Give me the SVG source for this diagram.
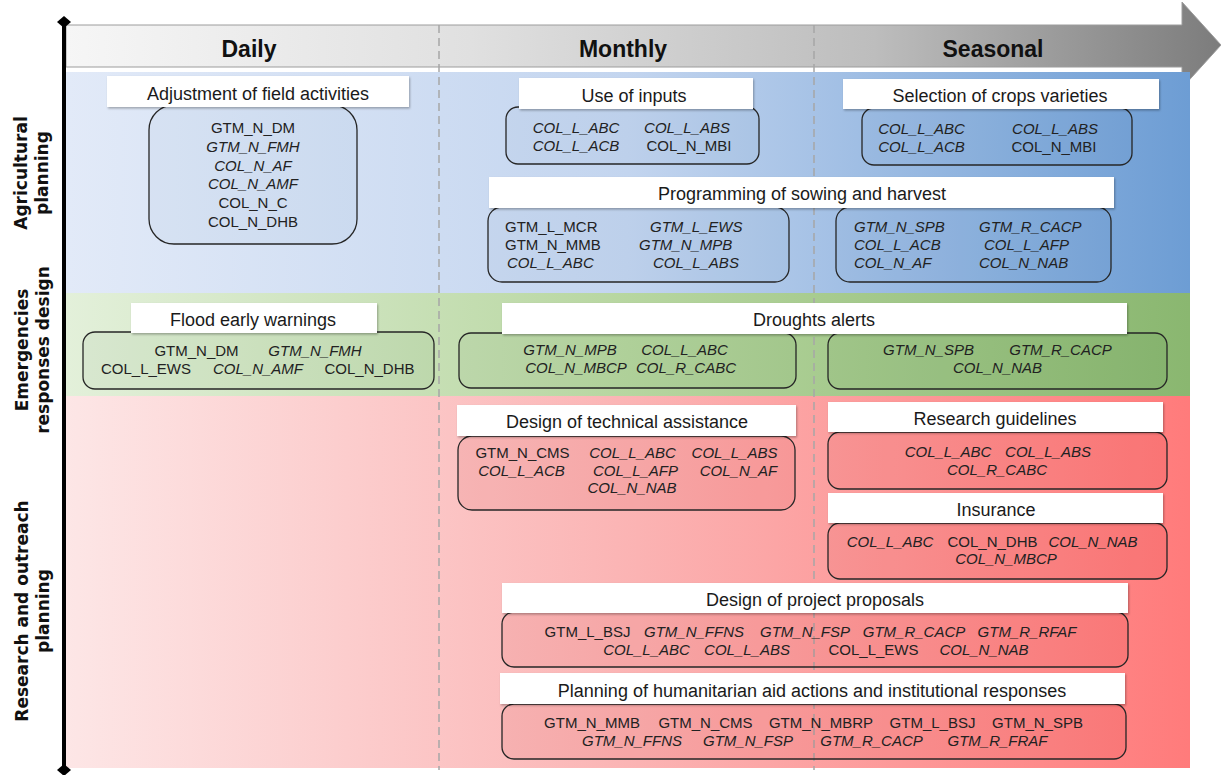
<svg xmlns="http://www.w3.org/2000/svg" width="1221" height="775" viewBox="0 0 1221 775">
<defs>
<linearGradient id="hdr" gradientUnits="userSpaceOnUse" x1="66" y1="0" x2="1221" y2="0">
<stop offset="0" stop-color="#f6f6f6"/><stop offset="0.35" stop-color="#e0e0e0"/><stop offset="0.7" stop-color="#bdbdbd"/><stop offset="1" stop-color="#7c7c7c"/>
</linearGradient>
<linearGradient id="blueG" gradientUnits="userSpaceOnUse" x1="66" y1="0" x2="1190" y2="0">
<stop offset="0" stop-color="#e2eaf8"/><stop offset="0.5" stop-color="#c3d5ef"/><stop offset="1" stop-color="#6d9dd4"/>
</linearGradient>
<linearGradient id="greenG" gradientUnits="userSpaceOnUse" x1="66" y1="0" x2="1190" y2="0">
<stop offset="0" stop-color="#e3f0da"/><stop offset="0.5" stop-color="#b7d6a0"/><stop offset="1" stop-color="#8ab770"/>
</linearGradient>
<linearGradient id="redG" gradientUnits="userSpaceOnUse" x1="66" y1="0" x2="1190" y2="0">
<stop offset="0" stop-color="#fde6e6"/><stop offset="0.5" stop-color="#fbb4b4"/><stop offset="1" stop-color="#ff7b7b"/>
</linearGradient>
<filter id="sh" x="-5%" y="-20%" width="110%" height="150%">
<feDropShadow dx="1" dy="1.5" stdDeviation="1.2" flood-color="#000" flood-opacity="0.3"/>
</filter>
<style>
.t{font-family:"Liberation Sans",Arial,sans-serif;font-size:18px;fill:#1a1a1a;text-anchor:middle}
.c{font-family:"Liberation Sans",Arial,sans-serif;font-size:15px;fill:#222;text-anchor:middle}
.i{font-style:italic}
.s{text-anchor:start}
.h{font-family:"Liberation Sans",Arial,sans-serif;font-size:23px;font-weight:bold;fill:#111;text-anchor:middle}
.lab{font-family:"DejaVu Sans",sans-serif;font-size:17px;font-weight:bold;fill:#111;text-anchor:middle}
.bar{fill:#fff;filter:url(#sh)}
.box{stroke:#262626;stroke-width:1.3}
.bb{fill:#2b5aa0;fill-opacity:0.04}
.gb{fill:#2e6b1e;fill-opacity:0.05}
.rb{fill:#c01010;fill-opacity:0.08}
.dash{stroke:#a6a6a6;stroke-width:1.5;stroke-dasharray:8 5;fill:none}
</style>
</defs>
<g id="background">
<polygon points="66,25 1182,25 1182,2 1221,45 1182,88 1182,67 66,67" fill="url(#hdr)" stroke="#9c9c9c" stroke-width="1"/>
<rect x="66" y="72" width="1124" height="221" fill="url(#blueG)"/>
<rect x="66" y="293" width="1124" height="103" fill="url(#greenG)"/>
<rect x="66" y="396" width="1124" height="372" fill="url(#redG)"/>
<line class="dash" x1="439" y1="25" x2="439" y2="770"/>
<line class="dash" x1="814" y1="25" x2="814" y2="770"/>
<line x1="64" y1="22" x2="64" y2="770" stroke="#000" stroke-width="4"/>
<polygon points="64,16 71,22 64,28 57,22" fill="#000"/>
<polygon points="64,764 71,770 64,776 57,770" fill="#000"/>
<text class="h" x="249" y="57">Daily</text>
<text class="h" x="623" y="57">Monthly</text>
<text class="h" x="993" y="57">Seasonal</text>
<text class="lab" transform="translate(27,173) rotate(-90)">Agricultural</text>
<text class="lab" transform="translate(48,173) rotate(-90)">planning</text>
<text class="lab" transform="translate(28,350) rotate(-90)">Emergencies</text>
<text class="lab" transform="translate(49,350) rotate(-90)">responses design</text>
<text class="lab" transform="translate(28,611) rotate(-90)">Research and outreach</text>
<text class="lab" transform="translate(49,611) rotate(-90)">planning</text>
</g>
<g id="connectors"></g>
<g id="n1">
<rect class="box bb" x="149" y="105" width="208" height="139" rx="25"/>
<rect class="bar" x="107" y="76" width="302" height="31"/>
<text class="t" x="258" y="100">Adjustment of field activities</text>
<text class="c" x="253" y="133">GTM_N_DM</text>
<text class="c i" x="253" y="151.8">GTM_N_FMH</text>
<text class="c i" x="253" y="170.6">COL_N_AF</text>
<text class="c i" x="253" y="189.4">COL_N_AMF</text>
<text class="c" x="253" y="208.2">COL_N_C</text>
<text class="c" x="253" y="227">COL_N_DHB</text>
</g>
<g id="n2">
<rect class="box bb" x="506" y="107" width="253" height="57" rx="12"/>
<rect class="bar" x="519" y="78" width="234" height="31"/>
<text class="t" x="634" y="102">Use of inputs</text>
<text class="c i" x="576" y="132.5">COL_L_ABC</text>
<text class="c i" x="687" y="132.5">COL_L_ABS</text>
<text class="c i" x="576" y="150.5">COL_L_ACB</text>
<text class="c" x="689" y="150.5">COL_N_MBI</text>
</g>
<g id="n3">
<rect class="box bb" x="862" y="108" width="270" height="57" rx="12"/>
<rect class="bar" x="843" y="79" width="316" height="30"/>
<text class="t" x="1000" y="102">Selection of crops varieties</text>
<text class="c i" x="921.5" y="133.5">COL_L_ABC</text>
<text class="c i" x="1055" y="133.5">COL_L_ABS</text>
<text class="c i" x="921.5" y="151.5">COL_L_ACB</text>
<text class="c" x="1054" y="151.5">COL_N_MBI</text>
</g>
<g id="n4">
<rect class="box bb" x="488" y="207" width="301" height="75" rx="14"/>
<rect class="box bb" x="836" y="207" width="275" height="75" rx="14"/>
<rect class="bar" x="489" y="177" width="625" height="31"/>
<text class="t" x="802" y="200">Programming of sowing and harvest</text>
<text class="c s" x="505" y="231.5">GTM_L_MCR</text>
<text class="c i s" x="650" y="231.5">GTM_L_EWS</text>
<text class="c s" x="505" y="249.5">GTM_N_MMB</text>
<text class="c i s" x="639" y="249.5">GTM_N_MPB</text>
<text class="c i s" x="507" y="267.5">COL_L_ABC</text>
<text class="c i s" x="653" y="267.5">COL_L_ABS</text>
<text class="c i s" x="854" y="231.5">GTM_N_SPB</text>
<text class="c i s" x="979" y="231.5">GTM_R_CACP</text>
<text class="c i s" x="854" y="249.5">COL_L_ACB</text>
<text class="c i s" x="984" y="249.5">COL_L_AFP</text>
<text class="c i s" x="854" y="267.5">COL_N_AF</text>
<text class="c i s" x="979" y="267.5">COL_N_NAB</text>
</g>
<g id="n5">
<rect class="box gb" x="83" y="332" width="351" height="57" rx="12"/>
<rect class="bar" x="131" y="303" width="246" height="30"/>
<text class="t" x="253" y="326">Flood early warnings</text>
<text class="c" x="196.5" y="356">GTM_N_DM</text>
<text class="c i" x="315" y="356">GTM_N_FMH</text>
<text class="c" x="146" y="374">COL_L_EWS</text>
<text class="c i" x="258" y="374">COL_N_AMF</text>
<text class="c" x="369.5" y="374">COL_N_DHB</text>
</g>
<g id="n6">
<rect class="box gb" x="459" y="333" width="337" height="55" rx="12"/>
<rect class="box gb" x="828" y="333" width="339" height="56" rx="12"/>
<rect class="bar" x="502" y="303" width="625" height="31"/>
<text class="t" x="814" y="326">Droughts alerts</text>
<text class="c i" x="570" y="355">GTM_N_MPB</text>
<text class="c i" x="684.5" y="355">COL_L_ABC</text>
<text class="c i" x="576" y="373">COL_N_MBCP</text>
<text class="c i" x="686" y="373">COL_R_CABC</text>
<text class="c i" x="928.5" y="355">GTM_N_SPB</text>
<text class="c i" x="1060.5" y="355">GTM_R_CACP</text>
<text class="c i" x="997.5" y="373">COL_N_NAB</text>
</g>
<g id="n7">
<rect class="box rb" x="458" y="436" width="337" height="74" rx="14"/>
<rect class="bar" x="457" y="405" width="339" height="31"/>
<text class="t" x="627" y="428">Design of technical assistance</text>
<text class="c" x="522.5" y="458">GTM_N_CMS</text>
<text class="c i" x="632.5" y="458">COL_L_ABC</text>
<text class="c i" x="734.5" y="458">COL_L_ABS</text>
<text class="c i" x="521.5" y="475.5">COL_L_ACB</text>
<text class="c i" x="635.5" y="475.5">COL_L_AFP</text>
<text class="c i" x="738.5" y="475.5">COL_N_AF</text>
<text class="c i" x="632" y="493">COL_N_NAB</text>
</g>
<g id="n8">
<rect class="box rb" x="828" y="432" width="339" height="57" rx="12"/>
<rect class="bar" x="828" y="402" width="335" height="30"/>
<text class="t" x="995" y="425">Research guidelines</text>
<text class="c i" x="948" y="457">COL_L_ABC</text>
<text class="c i" x="1048" y="457">COL_L_ABS</text>
<text class="c i" x="997" y="475">COL_R_CABC</text>
</g>
<g id="n9">
<rect class="box rb" x="828" y="523" width="339" height="56" rx="12"/>
<rect class="bar" x="828" y="493" width="335" height="30"/>
<text class="t" x="996" y="516">Insurance</text>
<text class="c i" x="890" y="547">COL_L_ABC</text>
<text class="c" x="992.5" y="547">COL_N_DHB</text>
<text class="c i" x="1093" y="547">COL_N_NAB</text>
<text class="c i" x="1006" y="564">COL_N_MBCP</text>
</g>
<g id="n10">
<rect class="box rb" x="502" y="612" width="626" height="55" rx="12"/>
<rect class="bar" x="502" y="583" width="626" height="30"/>
<text class="t" x="815" y="606">Design of project proposals</text>
<text class="c" x="587.5" y="637">GTM_L_BSJ</text>
<text class="c i" x="694" y="637">GTM_N_FFNS</text>
<text class="c i" x="805" y="637">GTM_N_FSP</text>
<text class="c i" x="914" y="637">GTM_R_CACP</text>
<text class="c i" x="1027" y="637">GTM_R_RFAF</text>
<text class="c i" x="646.5" y="655">COL_L_ABC</text>
<text class="c i" x="747" y="655">COL_L_ABS</text>
<text class="c" x="873.5" y="655">COL_L_EWS</text>
<text class="c i" x="984" y="655">COL_N_NAB</text>
</g>
<g id="n11">
<rect class="box rb" x="502" y="704" width="624" height="55" rx="12"/>
<rect class="bar" x="500" y="673" width="625" height="31"/>
<text class="t" x="812" y="697">Planning of humanitarian aid actions and institutional responses</text>
<text class="c" x="592" y="728">GTM_N_MMB</text>
<text class="c" x="705.5" y="728">GTM_N_CMS</text>
<text class="c" x="821" y="728">GTM_N_MBRP</text>
<text class="c" x="932.5" y="728">GTM_L_BSJ</text>
<text class="c" x="1037.5" y="728">GTM_N_SPB</text>
<text class="c i" x="632" y="746">GTM_N_FFNS</text>
<text class="c i" x="748" y="746">GTM_N_FSP</text>
<text class="c i" x="871.5" y="746">GTM_R_CACP</text>
<text class="c i" x="997.5" y="746">GTM_R_FRAF</text>
</g>
</svg>
